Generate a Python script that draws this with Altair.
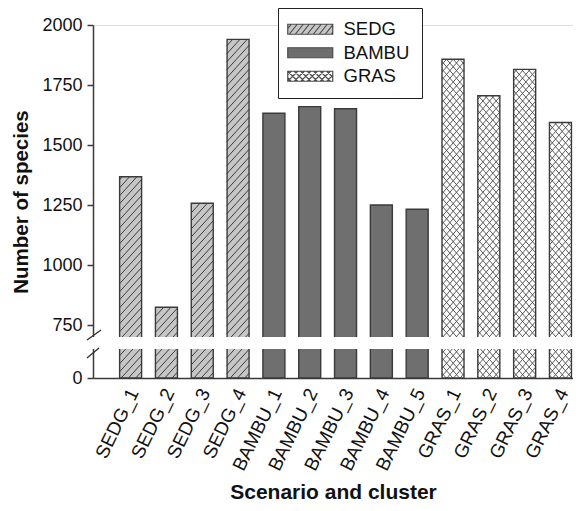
import altair as alt
import pandas as pd
import numpy as np

# ---------------- data ----------------
categories = ["SEDG_1", "SEDG_2", "SEDG_3", "SEDG_4",
              "BAMBU_1", "BAMBU_2", "BAMBU_3", "BAMBU_4", "BAMBU_5",
              "GRAS_1", "GRAS_2", "GRAS_3", "GRAS_4"]
scenario = ["SEDG"] * 4 + ["BAMBU"] * 5 + ["GRAS"] * 4
species = [1368, 824, 1257, 1940, 1632, 1660, 1651, 1250, 1232,
           1857, 1705, 1815, 1594]
groups = ["SEDG", "BAMBU", "GRAS"]
group_fill = ["#c6c6c6", "#6f6f6f", "#ffffff"]
# legend swatches are drawn at Vega-Lite's default 0.7 point opacity;
# these darker tones show as the bar colours above once blended on white
legend_fill = ["#aeaeae", "#313131", "#ffffff"]
y_ticks = [0, 750, 1000, 1250, 1500, 1750, 2000]
y_breaks = [0, 100, 700, 2000]   # broken axis: 0-100 below the break, 700-2000 above

# ---------------- layout ----------------
W, H = 480, 353
y_range = [H, 324, 312, 0]
x_dom = [-1.05, 12.35]
half = 0.307
sx = W / (x_dom[1] - x_dom[0])


def xpix(v):
    return (v - x_dom[0]) * sx


def xinv(p):
    return p / sx + x_dom[0]


def ypix(v):
    return float(np.interp(v, y_breaks, y_range))


def yinv(p):
    return float(np.interp(p, y_range[::-1], y_breaks[::-1]))


def hatch(xl, xr, yt, yb, k, step, sign):
    """segments of parallel lines clipped to a rectangle (y grows downward)."""
    segs = []
    if sign > 0:
        cmin, cmax = yt + k * xl, yb + k * xr
    else:
        cmin, cmax = yt - k * xr, yb - k * xl
    n0 = int(np.floor(cmin / step))
    n1 = int(np.ceil(cmax / step))
    for n in range(n0, n1 + 1):
        c = n * step
        if sign > 0:
            lo = max(xl, (c - yb) / k)
            hi = min(xr, (c - yt) / k)
            if hi - lo > 1e-6:
                segs.append((lo, c - k * lo, hi, c - k * hi))
        else:
            lo = max(xl, (yt - c) / k)
            hi = min(xr, (yb - c) / k)
            if hi - lo > 1e-6:
                segs.append((lo, c + k * lo, hi, c + k * hi))
    return segs


# ---------------- tables ----------------
pos = list(range(len(categories)))
fill_of = dict(zip(groups, group_fill))
bars_df = pd.DataFrame({
    "category": categories,
    "scenario": scenario,
    "species": species,
    "pos": pos,
    "x_lo": [p - half for p in pos],
    "x_hi": [p + half for p in pos],
    "mid": [v / 2 for v in species],
    "fill": [fill_of[s] for s in scenario],
})

stripe_rows, cross_rows = [], []
for p, s, v in zip(pos, scenario, species):
    xl, xr = xpix(p - half), xpix(p + half)
    yt, yb = ypix(v), ypix(0)
    if s == "SEDG":
        for a, b, c, d in hatch(xl, xr, yt, yb, 1.1, 8.0, 1):
            stripe_rows.append({"x": xinv(a), "y": yinv(b), "x2": xinv(c), "y2": yinv(d)})
    elif s == "GRAS":
        for sg in (1, -1):
            for a, b, c, d in hatch(xl, xr, yt, yb, 1.15, 7.6, sg):
                cross_rows.append({"x": xinv(a), "y": yinv(b), "x2": xinv(c), "y2": yinv(d)})
stripe_df = pd.DataFrame(stripe_rows)
cross_df = pd.DataFrame(cross_rows)

gap_df = pd.DataFrame({"x0": [x_dom[0]], "x1": [x_dom[1]],
                       "y0": [y_breaks[1]], "y1": [y_breaks[2]]})
brk_hi = pd.DataFrame({"bx": [x_dom[0]], "by": [y_breaks[2]]})
brk_lo = pd.DataFrame({"bx": [x_dom[0]], "by": [y_breaks[1]]})


# ---------------- legend swatch shapes (unit square coords) ----------------
def rect_path(x0, x1, y0, y1):
    return f"M{x0},{y0}H{x1}V{y1}H{x0}Z"


def seg_path(segs):
    return "".join(f"M{a:.3f},{b:.3f}L{c:.3f},{d:.3f}" for a, b, c, d in segs)


LX0, LX1, LY0, LY1 = -2.3, 6.7, -1.0, 1.0
path_sedg = rect_path(LX0, LX1, LY0, LY1) + seg_path(hatch(LX0, LX1, LY0, LY1, 1.25, 1.5, 1))
path_bambu = rect_path(LX0, LX1, LY0, LY1)
path_gras = (rect_path(LX0, LX1, LY0, LY1)
             + seg_path(hatch(LX0, LX1, LY0, LY1, 1.0, 1.3, 1))
             + seg_path(hatch(LX0, LX1, LY0, LY1, 1.0, 1.3, -1)))

# ---------------- scales / axes ----------------
FONT = "Liberation Sans"
AX = "#3a3a3a"
x_scale = alt.Scale(domain=x_dom, nice=False, zero=False)
y_scale = alt.Scale(domain=y_breaks, range=y_range, nice=False, zero=False)

x_axis = alt.Axis(values=pos, labels=False, ticks=False, grid=False,
                  title="Scenario and cluster", titleFontSize=21, titleFontWeight="bold",
                  titlePadding=103, domainColor=AX, domainWidth=1.5,
                  titleColor="#111", titleFont=FONT)
y_axis = alt.Axis(values=y_ticks, format="d", tickSize=6, tickColor=AX, tickWidth=1.5,
                  labelFontSize=18, labelPadding=5, grid=False,
                  title="Number of species", titleFontSize=20.5, titleFontWeight="bold",
                  titlePadding=10.5, domainColor=AX, domainWidth=1.5,
                  labelColor="#111", titleColor="#111", labelFont=FONT, titleFont=FONT)

legend = alt.Legend(title=None, orient="none", legendX=185, legendY=-17,
                    direction="vertical", padding=12, fillColor="white",
                    strokeColor="#222", symbolSize=100, symbolStrokeColor="#000",
                    symbolStrokeWidth=1.2, labelFontSize=18.5, labelOffset=35,
                    rowPadding=4.5, labelColor="#111", labelFont=FONT)

# ---------------- layers ----------------
pts = alt.Chart(bars_df).mark_point(filled=True, size=0.001, stroke="#000",
                                    strokeWidth=1.2).encode(
    x=alt.X("pos:Q", scale=x_scale),
    y=alt.Y("mid:Q", scale=y_scale),
    color=alt.Color("scenario:N", scale=alt.Scale(domain=groups, range=legend_fill), legend=legend),
    shape=alt.Shape("scenario:N", scale=alt.Scale(domain=groups, range=[path_sedg, path_bambu, path_gras]),
                    legend=legend),
)

bars = alt.Chart(bars_df).mark_rect().encode(
    x=alt.X("x_lo:Q", scale=x_scale, axis=x_axis),
    x2="x_hi:Q",
    y=alt.Y("species:Q", scale=y_scale, axis=y_axis),
    y2=alt.Y2(datum=0),
    fill=alt.Fill("fill:N", scale=None),
)

stripes = alt.Chart(stripe_df).mark_rule(color="#3c3c3c", strokeWidth=1.0).encode(
    x=alt.X("x:Q", scale=x_scale), x2="x2:Q",
    y=alt.Y("y:Q", scale=y_scale), y2="y2:Q",
)
cross = alt.Chart(cross_df).mark_rule(color="#4a4a4a", strokeWidth=0.9).encode(
    x=alt.X("x:Q", scale=x_scale), x2="x2:Q",
    y=alt.Y("y:Q", scale=y_scale), y2="y2:Q",
)

outline = alt.Chart(bars_df).mark_rect(fillOpacity=0, stroke="#3a3a3a", strokeWidth=1.4).encode(
    x=alt.X("x_lo:Q", scale=x_scale),
    x2="x_hi:Q",
    y=alt.Y("species:Q", scale=y_scale),
    y2=alt.Y2(datum=0),
)

gap = alt.Chart(gap_df).mark_rect(color="white", xOffset=-6).encode(
    x=alt.X("x0:Q", scale=x_scale), x2="x1:Q",
    y=alt.Y("y0:Q", scale=y_scale), y2="y1:Q",
)

slash_hi = alt.Chart(brk_hi).mark_rule(color="#333", strokeWidth=1.4, xOffset=-6, x2Offset=8,
                                       yOffset=3, y2Offset=-7).encode(
    x=alt.X("bx:Q", scale=x_scale), x2="bx:Q",
    y=alt.Y("by:Q", scale=y_scale), y2="by:Q",
)
slash_lo = alt.Chart(brk_lo).mark_rule(color="#333", strokeWidth=1.4, xOffset=-6, x2Offset=6,
                                       yOffset=9, y2Offset=-1).encode(
    x=alt.X("bx:Q", scale=x_scale), x2="bx:Q",
    y=alt.Y("by:Q", scale=y_scale), y2="by:Q",
)

# category labels under the bars, rotated like the original tick labels
xlabels = alt.Chart(bars_df).mark_text(angle=296, align="right", baseline="top", fontSize=19,
                                       font=FONT, color="#111", yOffset=8, xOffset=-5).encode(
    x=alt.X("pos:Q", scale=x_scale),
    y=alt.Y(datum=0, scale=y_scale),
    text="category:N",
)

chart = alt.layer(pts, bars, stripes, cross, outline, gap, slash_hi, slash_lo, xlabels).properties(
    width=W, height=H, background="white",
    autosize=alt.AutoSizeParams(type="none"),
    padding={"left": 85, "top": 17, "right": 0, "bottom": 125},
).configure_view(strokeWidth=0).configure_legend(strokeWidth=1.4).configure(font=FONT)

chart.save("out.html", embed_options={"renderer": "svg", "actions": False})
